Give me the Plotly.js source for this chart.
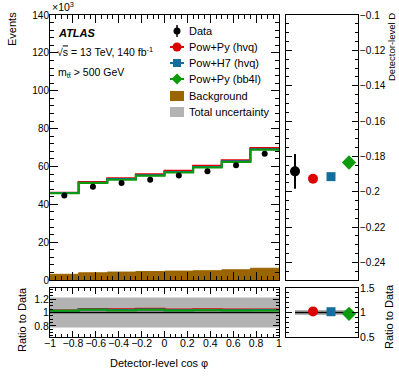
<!DOCTYPE html>
<html>
<head>
<meta charset="utf-8">
<script src="https://cdn.plot.ly/plotly-3.0.1.min.js"></script>
<style>html,body{margin:0;padding:0;background:#fff;}#chart{width:399px;height:387px;}</style>
</head>
<body>
<div id="chart"></div>
<script>
// ---------- data (values in units of 10^3 events) ----------
const binEdges   = [-1, -0.75, -0.5, -0.25, 0, 0.25, 0.5, 0.75, 1];
const binCenters = [-0.875, -0.625, -0.375, -0.125, 0.125, 0.375, 0.625, 0.875];
const dataVals   = [44.7, 49.2, 51.3, 53.0, 55.2, 57.5, 60.6, 66.7];
const dataErr    = [0.5, 0.5, 0.5, 0.5, 0.5, 0.5, 0.6, 0.6];
const powPyHvq   = [46.1, 51.8, 53.8, 55.9, 57.7, 60.3, 63.3, 69.7];
const powH7Hvq   = [45.9, 51.4, 53.3, 55.4, 57.1, 59.7, 62.7, 69.1];
const powPyBb4l  = [45.8, 51.2, 52.9, 55.1, 56.8, 59.4, 62.4, 68.8];
const background = [3.0, 3.8, 4.2, 4.5, 4.7, 4.9, 5.4, 6.2];
const totalUncRel = [0.225, 0.225, 0.225, 0.225, 0.225, 0.225, 0.225, 0.225];

// side panel: detector-level D
const sideCats   = ['Data', 'Pow+Py (hvq)', 'Pow+H7 (hvq)', 'Pow+Py (bb4l)'];
const sideD      = [-0.1885, -0.1927, -0.1915, -0.1835];
const sideDataErr = 0.0098;

const xTickVals  = [-1, -0.8, -0.6, -0.4, -0.2, 0, 0.2, 0.4, 0.6, 0.8, 1];

// ---------- colours ----------
const C = {red:'#dd0000', blue:'#136e9e', green:'#0a9c0a', brown:'#9a6400', gray:'#b3b3b3'};
const FONT = 'Liberation Sans, Arial, sans-serif';

// ---------- helpers ----------
const W = 399, H = 387;
const px = x => x / W;
const py = y => 1 - y / H;
function step(vals){ return vals.concat([vals[vals.length-1]]); }
const ratio = (a, b) => a.map((v, i) => v / b[i]);

const traces = [];
// background filled step
traces.push({x: binEdges, y: step(background), type:'scatter', mode:'lines',
  line:{shape:'hv', color:C.brown, width:1}, fill:'tozeroy', fillcolor:C.brown,
  xaxis:'x', yaxis:'y', hoverinfo:'skip'});
// predictions
[[powPyHvq, C.red], [powH7Hvq, C.blue], [powPyBb4l, C.green]].forEach(([v, c]) => {
  traces.push({x: binEdges, y: step(v), type:'scatter', mode:'lines',
    line:{shape:'hv', color:c, width:2}, xaxis:'x', yaxis:'y'});
});
// data
traces.push({x: binCenters, y: dataVals, type:'scatter', mode:'markers',
  marker:{color:'#000', size:6}, error_y:{type:'data', array:dataErr, color:'#000', thickness:1.5, width:0},
  xaxis:'x', yaxis:'y'});

// ratio panel
const lowU = totalUncRel.map(u => 1 - u), highU = totalUncRel.map(u => 1 + u);
traces.push({x: binEdges, y: step(lowU), type:'scatter', mode:'lines',
  line:{shape:'hv', width:0, color:C.gray}, xaxis:'x2', yaxis:'y2'});
traces.push({x: binEdges, y: step(highU), type:'scatter', mode:'lines',
  line:{shape:'hv', width:0, color:C.gray}, fill:'tonexty', fillcolor:C.gray, xaxis:'x2', yaxis:'y2'});
traces.push({x: binEdges, y: step(ratio(dataVals, dataVals)), type:'scatter', mode:'lines',
  line:{shape:'hv', color:'#000', width:1.5}, xaxis:'x2', yaxis:'y2'});
[[powPyHvq, C.red], [powH7Hvq, C.blue], [powPyBb4l, C.green]].forEach(([v, c]) => {
  traces.push({x: binEdges, y: step(ratio(v, dataVals)), type:'scatter', mode:'lines',
    line:{shape:'hv', color:c, width:2}, xaxis:'x2', yaxis:'y2'});
});

// side panel: D values
const sideColors = ['#000', C.red, C.blue, C.green];
const sideSymbols = ['circle', 'circle', 'square', 'diamond'];
const sideSizes = [10, 10, 9, 11];
traces.push({x: [sideCats[0]], y: [sideD[0]], type:'scatter', mode:'markers',
  marker:{color:'#000', size:10}, error_y:{type:'data', array:[sideDataErr], color:'#000', thickness:2, width:0},
  xaxis:'x3', yaxis:'y3'});
for (let i = 1; i < 4; i++) {
  traces.push({x: [sideCats[i]], y: [sideD[i]], type:'scatter', mode:'markers',
    marker:{color:sideColors[i], size:sideSizes[i], symbol:sideSymbols[i]}, xaxis:'x3', yaxis:'y3'});
}
// side ratio panel
const sideRel = sideDataErr / Math.abs(sideD[0]);
traces.push({x: [sideCats[0], sideCats[3]], y: [1 - sideRel, 1 - sideRel], type:'scatter', mode:'lines',
  line:{width:0}, xaxis:'x4', yaxis:'y4'});
traces.push({x: [sideCats[0], sideCats[3]], y: [1 + sideRel, 1 + sideRel], type:'scatter', mode:'lines',
  line:{width:0}, fill:'tonexty', fillcolor:C.gray, xaxis:'x4', yaxis:'y4'});
traces.push({x: [sideCats[0], sideCats[3]], y: [1, 1], type:'scatter', mode:'lines',
  line:{color:'#000', width:1.5}, xaxis:'x4', yaxis:'y4'});
for (let i = 1; i < 4; i++) {
  traces.push({x: [sideCats[i]], y: [sideD[i] / sideD[0]], type:'scatter', mode:'markers',
    marker:{color:sideColors[i], size:sideSizes[i], symbol:sideSymbols[i]}, xaxis:'x4', yaxis:'y4'});
}

// ---------- axes ----------
const tickFont = {family:FONT, size:10.5, color:'#000'};
const tickFontY = {family:FONT, size:10, color:'#000'};
function ax(o){
  return Object.assign({showline:true, linecolor:'#000', linewidth:1, mirror:'ticks', ticks:'inside',
    tickcolor:'#000', showgrid:false, zeroline:false, tickfont:tickFont, fixedrange:true}, o);
}
const mainX = [px(50), px(279)], mainY = [py(280), py(15)];
const ratX = mainX, ratY = [py(337), py(288)];
const sideX = [px(286), px(358)];

const layout = {
  width:W, height:H, margin:{l:0, r:0, t:0, b:0},
  paper_bgcolor:'#fff', plot_bgcolor:'#fff', showlegend:false,
  font:{family:FONT, size:11, color:'#000'},
  xaxis: ax({domain:mainX, anchor:'y', range:[-1,1], tickvals:xTickVals, showticklabels:false, ticklen:8,
    minor:{dtick:0.05, tick0:-1, ticks:'inside', ticklen:4, tickcolor:'#000'}}),
  yaxis: ax({domain:mainY, anchor:'x', range:[0,140], dtick:20, ticklen:8, ticklabelstandoff:-2, tickfont:tickFontY,
    minor:{dtick:4, ticks:'inside', ticklen:4, tickcolor:'#000'}}),
  xaxis2: ax({domain:ratX, anchor:'y2', range:[-1,1], tickvals:xTickVals, ticklen:6, ticklabelstandoff:-4,
    minor:{dtick:0.05, tick0:-1, ticks:'inside', ticklen:3, tickcolor:'#000'}}),
  yaxis2: ax({domain:ratY, anchor:'x2', range:[0.635,1.365], tickvals:[0.8,1,1.2], ticktext:['0.8','1','1.2'], ticklen:6,
    ticklabelstandoff:-2, minor:{dtick:0.05, ticks:'inside', ticklen:3, tickcolor:'#000'}}),
  xaxis3: ax({domain:sideX, anchor:'y3', type:'category', categoryarray:sideCats, range:[-0.5,3.5],
    showticklabels:false, ticks:'', mirror:true}),
  yaxis3: ax({domain:mainY, anchor:'x3', side:'right', range:[-0.25,-0.1], dtick:0.02, tick0:-0.1, ticklen:6,
    ticklabelstandoff:-1, tickfont:tickFontY, minor:{dtick:0.005, ticks:'inside', ticklen:3, tickcolor:'#000'}}),
  xaxis4: ax({domain:sideX, anchor:'y4', type:'category', categoryarray:sideCats, range:[-0.5,3.5],
    showticklabels:false, ticks:'', mirror:true}),
  yaxis4: ax({domain:ratY, anchor:'x4', side:'right', range:[0.5,1.5], tickvals:[0.5,1,1.5], ticktext:['0.5','1','1.5'], ticklen:6,
    ticklabelstandoff:-1, minor:{dtick:0.1, ticks:'inside', ticklen:3, tickcolor:'#000'}}),
  shapes: [], annotations: []
};

// ---------- texts ----------
const A = layout.annotations;
function txt(text, x, y, o){ A.push(Object.assign({text, x:px(x), y:py(y), xref:'paper', yref:'paper',
  showarrow:false, xanchor:'left', yanchor:'middle', font:{family:FONT, size:11, color:'#000'}}, o||{})); }
txt('×10<sup>3</sup>', 50, 6, {font:{family:FONT, size:10.5}});
txt('Events', 12, 29, {textangle:-90, xanchor:'center'});
txt('<b><i>ATLAS</i></b>', 56, 33);
txt('√<span style="text-decoration:overline">s</span> = 13 TeV, 140 fb<sup>-1</sup>', 55, 52, {font:{family:FONT, size:10.5}});
txt('m<sub>tt̄</sub> > 500 GeV', 56, 73, {font:{family:FONT, size:10.5}});
txt('Ratio to Data', 22, 320, {textangle:-90, xanchor:'center'});
txt('Detector-level cos φ', 159, 363, {xanchor:'center'});
txt('Detector-level D', 391, 47, {textangle:-90, xanchor:'center', font:{family:FONT, size:9.5}});
txt('Ratio to Data', 389, 317, {textangle:-90, xanchor:'center'});

// ---------- legend (drawn manually) ----------
const S = layout.shapes;
const legRows = [31, 47, 63, 79, 96, 112];
const legLabels = ['Data', 'Pow+Py (hvq)', 'Pow+H7 (hvq)', 'Pow+Py (bb4l)', 'Background', 'Total uncertainty'];
const lx0 = 170, lx1 = 184, lxc = 177, ltx = 187;
function rectPx(x0, y0, x1, y1, color, type){ S.push({type:type||'rect', xref:'paper', yref:'paper',
  x0:px(x0), x1:px(x1), y0:py(y1), y1:py(y0), fillcolor:color, line:{width:0}}); }
function linePx(x0, y0, x1, y1, color, w){ S.push({type:'line', xref:'paper', yref:'paper',
  x0:px(x0), x1:px(x1), y0:py(y0), y1:py(y1), line:{color, width:w}}); }
// Data
linePx(lxc, legRows[0]-6, lxc, legRows[0]+6, '#000', 1.5);
rectPx(lxc-3.5, legRows[0]-3.5, lxc+3.5, legRows[0]+3.5, '#000', 'circle');
// Pow+Py hvq
linePx(lx0, legRows[1], lx1, legRows[1], C.red, 2);
rectPx(lxc-4.5, legRows[1]-4.5, lxc+4.5, legRows[1]+4.5, C.red, 'circle');
// Pow+H7
linePx(lx0, legRows[2], lx1, legRows[2], C.blue, 2);
rectPx(lxc-4, legRows[2]-4, lxc+4, legRows[2]+4, C.blue);
// bb4l diamond
linePx(lx0, legRows[3], lx1, legRows[3], C.green, 2);
{ const r = 5.5, y = legRows[3];
  S.push({type:'path', xref:'paper', yref:'paper', fillcolor:C.green, line:{width:0},
    path:`M ${px(lxc)} ${py(y-r)} L ${px(lxc+r)} ${py(y)} L ${px(lxc)} ${py(y+r)} L ${px(lxc-r)} ${py(y)} Z`}); }
rectPx(lx0, legRows[4]-5, lx1, legRows[4]+5, C.brown);
rectPx(lx0, legRows[5]-5, lx1, legRows[5]+5, C.gray);
legLabels.forEach((l, i) => txt(l, ltx, legRows[i]));

Plotly.newPlot('chart', traces, layout, {staticPlot:true});
</script>
</body>
</html>
